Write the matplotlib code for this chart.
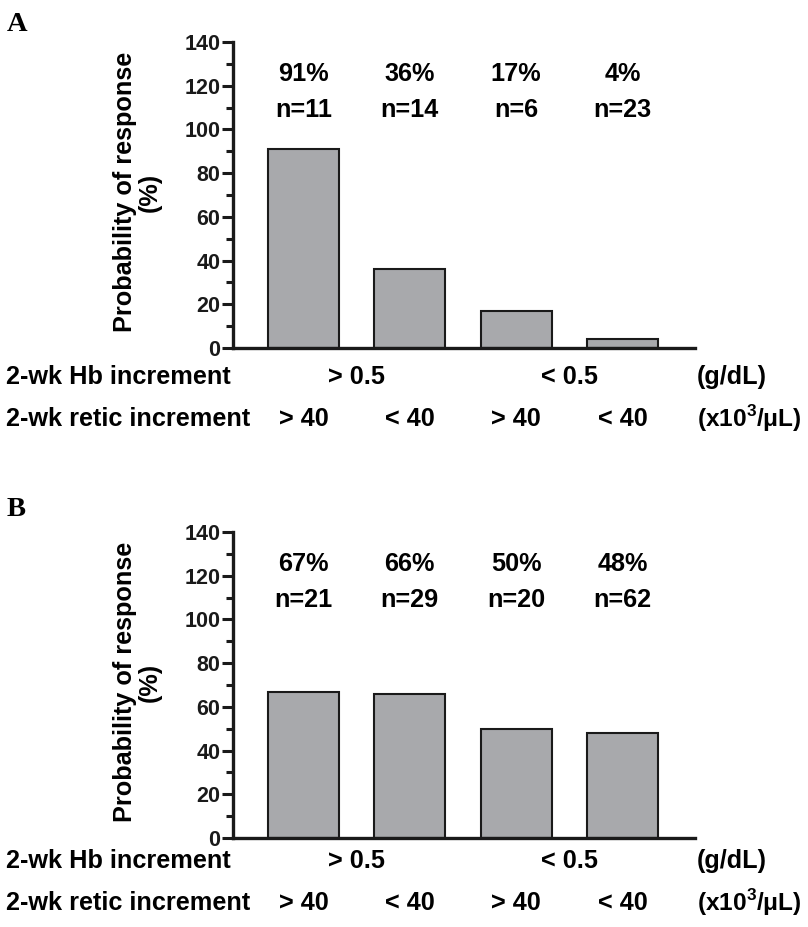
import matplotlib
matplotlib.use("Agg")
import matplotlib.pyplot as plt
from matplotlib.ticker import MultipleLocator
from matplotlib import transforms

plt.rcParams['font.family'] = ['Liberation Sans', 'DejaVu Sans']
plt.rcParams['font.weight'] = 'bold'
plt.rcParams['mathtext.fontset'] = 'custom'
plt.rcParams['mathtext.bf'] = 'Liberation Sans:bold'

# --- data ---
hb_groups = ["> 0.5", "< 0.5"]
retic_groups = ["> 40", "< 40", "> 40", "< 40"]
prob_a = [91, 36, 17, 4]
n_a = [11, 14, 6, 23]
prob_b = [67, 66, 50, 48]
n_b = [21, 29, 20, 62]
yticks = [0, 20, 40, 60, 80, 100, 120, 140]

BAR_COLOR = "#a8a9ac"
EDGE_COLOR = "#1a1a1a"
FS = 18.2

W, H = 808, 927
fig = plt.figure(figsize=(W / 100, H / 100), dpi=100)


def px(x, y):
    # pixel position (from top-left) -> figure fraction
    return x / W, 1 - y / H


def panel(top_px, probs, ns, letter, letter_y, row1_y, row2_y):
    left, right = 233, 695
    ax = fig.add_axes([left / W, 1 - (top_px + 306) / H, (right - left) / W, 306 / H])
    xs = list(range(len(probs)))
    ax.bar(xs, probs, width=0.668, color=BAR_COLOR, edgecolor=EDGE_COLOR, linewidth=1.5, zorder=2)
    ax.set_xlim(-0.663, 3.683)
    ax.set_ylim(0, 140)
    ax.set_yticks(yticks)
    ax.yaxis.set_minor_locator(MultipleLocator(10))
    ax.set_xticks([])
    for s in ("top", "right"):
        ax.spines[s].set_visible(False)
    for s in ("left", "bottom"):
        ax.spines[s].set_linewidth(2.4)
        ax.spines[s].set_color("#1a1a1a")
        ax.spines[s].set_zorder(3)
    ax.tick_params(axis="y", which="major", length=8, width=2.2, labelsize=15.5, pad=1, colors="#1a1a1a")
    ax.tick_params(axis="y", which="minor", length=5, width=2.2, colors="#1a1a1a")
    for lab in ax.get_yticklabels():
        lab.set_fontweight("bold")

    for x, p, n in zip(xs, probs, ns):
        ax.text(x, 125.5, f"{p}%", ha="center", va="center", fontsize=FS, fontweight="bold")
        ax.text(x, 109, f"n={n}", ha="center", va="center", fontsize=FS, fontweight="bold")

    # y label
    cx, cy = px(137, top_px + 150)
    fig.text(cx, cy, "Probability of response\n(%)", rotation=90, ha="center", va="center",
             fontsize=FS, fontweight="bold", linespacing=1.05)

    # panel letter
    lx, ly = px(7, letter_y)
    fig.text(lx, ly, letter, ha="left", va="baseline", fontsize=20.5, fontweight="bold",
             family="Liberation Serif")

    # rows under the axis
    trans = transforms.blended_transform_factory(ax.transData, fig.transFigure)
    _, y1 = px(0, row1_y)
    _, y2 = px(0, row2_y)
    fig.text(6 / W, y1, "2-wk Hb increment", ha="left", va="center", fontsize=FS, fontweight="bold")
    fig.text(6 / W, y2, "2-wk retic increment", ha="left", va="center", fontsize=FS, fontweight="bold")
    for i, g in enumerate(hb_groups):
        ax.text(2 * i + 0.5, y1, g, transform=trans, ha="center", va="center", fontsize=FS, fontweight="bold")
    for x, g in zip(xs, retic_groups):
        ax.text(x, y2, g, transform=trans, ha="center", va="center", fontsize=FS, fontweight="bold")
    fig.text(697 / W, y1, "(g/dL)", ha="left", va="center", fontsize=FS, fontweight="bold")
    fig.text(697 / W, y2, r"(x10$^{\mathbf{3}}$/μL)", ha="left", va="center", fontsize=17.6, fontweight="bold")
    return ax


panel(42, prob_a, n_a, "A", 31, 377, 419)
panel(532, prob_b, n_b, "B", 516, 861, 903)

fig.savefig("out.png", dpi=100)
